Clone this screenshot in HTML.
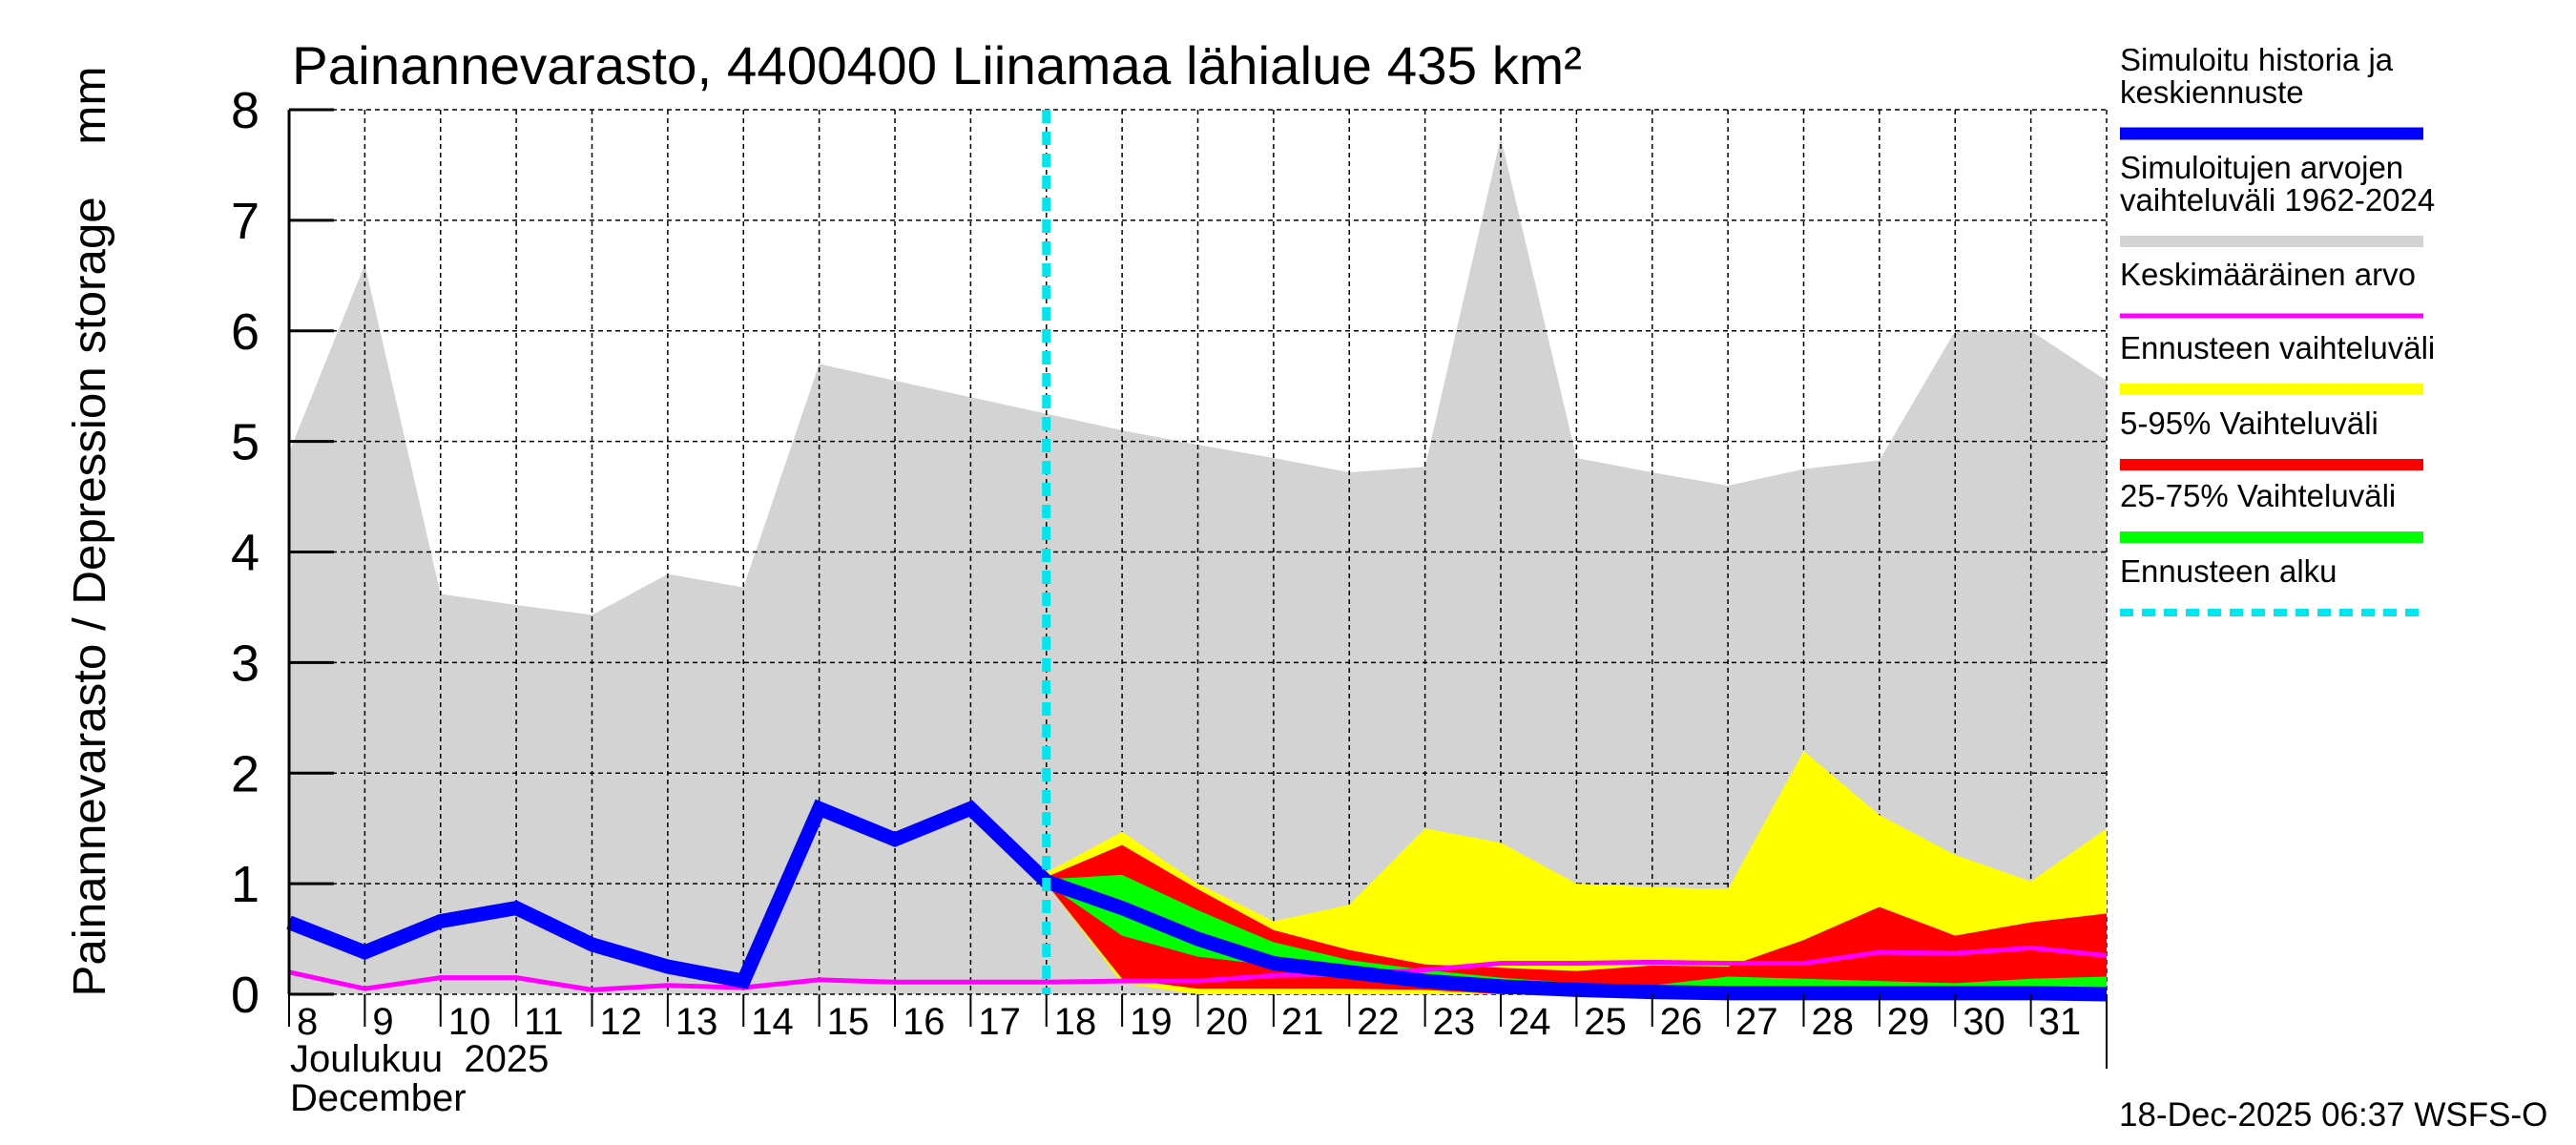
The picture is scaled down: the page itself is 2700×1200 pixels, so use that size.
<!DOCTYPE html>
<html><head><meta charset="utf-8"><style>
html,body{margin:0;padding:0;background:#fff}
svg{display:block;font-family:"Liberation Sans",sans-serif}
</style></head><body>
<svg id="chart" width="2700" height="1200" viewBox="0 0 2700 1200" xmlns="http://www.w3.org/2000/svg">
<g id="plot"></g>
<text x="306" y="88" font-size="56" textLength="1352" lengthAdjust="spacingAndGlyphs">Painannevarasto, 4400400 Liinamaa lähialue 435 km²</text>
<text transform="translate(110,557) rotate(-90)" text-anchor="middle" font-size="48" textLength="975" lengthAdjust="spacingAndGlyphs" xml:space="preserve">Painannevarasto / Depression storage    mm</text>
<text x="304" y="1123" font-size="40" xml:space="preserve">Joulukuu  2025</text>
<text x="304" y="1164" font-size="40">December</text>
<text x="2221" y="1180" font-size="35">18-Dec-2025 06:37 WSFS-O</text>
<g id="legend"></g>
</svg>
<script>
const days=[8,9,10,11,12,13,14,15,16,17,18,19,20,21,22,23,24,25,26,27,28,29,30,31,32];
const histMax=[4.9,6.6,3.62,3.52,3.43,3.8,3.68,5.7,5.55,5.4,5.25,5.1,4.97,4.85,4.72,4.77,7.75,4.85,4.72,4.6,4.75,4.83,6.0,6.0,5.55];
const blueVals=[0.65,0.38,0.66,0.78,0.45,0.25,0.12,1.68,1.4,1.68,1.02,0.78,0.5,0.28,0.2,0.12,0.07,0.04,0.02,0.01,0.01,0.01,0.01,0.01,0.0];
const meanVals=[0.2,0.05,0.15,0.15,0.04,0.08,0.06,0.13,0.11,0.11,0.11,0.12,0.12,0.17,0.18,0.22,0.28,0.28,0.29,0.28,0.28,0.38,0.37,0.42,0.35];
const fcDays=[18,19,20,21,22,23,24,25,26,27,28,29,30,31,32];
const yelHi=[1.1,1.47,1.0,0.66,0.81,1.5,1.37,1.0,0.97,0.95,2.2,1.62,1.26,1.02,1.5];
const yelLo=[1.0,0.1,0.0,0,0,0,0,0,0,0,0,0,0,0,0];
const redHi=[1.06,1.35,0.95,0.58,0.4,0.27,0.24,0.21,0.26,0.25,0.49,0.79,0.53,0.65,0.73];
const redLo=[1.0,0.14,0.05,0.05,0.05,0.04,0.0,0,0,0,0,0,0,0,0];
const grnHi=[1.04,1.08,0.76,0.47,0.31,0.22,0.15,0.1,0.08,0.16,0.14,0.12,0.1,0.14,0.16];
const grnLo=[1.0,0.53,0.34,0.26,0.2,0.14,0.08,0.05,0.03,0.03,0.03,0.03,0.03,0.03,0.03];
const yTicks=[0,1,2,3,4,5,6,7,8];
const xTickLabels=["8","9","10","11","12","13","14","15","16","17","18","19","20","21","22","23","24","25","26","27","28","29","30","31"];
const forecastStart=18;

const L=303,R=2208,T=115,B=1042;
const xs=d=>L+(d-8)*(R-L)/24;
const ys=v=>B-v*(B-T)/8;
const NS="http://www.w3.org/2000/svg";
const plot=document.getElementById('plot');
function mk(tag,attrs,parent){const e=document.createElementNS(NS,tag);for(const k in attrs)e.setAttribute(k,attrs[k]);(parent||plot).appendChild(e);return e;}
function band(xd,hi,lo,fill,name){
  let p=xd.map((d,i)=>xs(d)+','+ys(hi[i]));
  for(let i=xd.length-1;i>=0;i--)p.push(xs(xd[i])+','+ys(lo[i]));
  const e=mk('polygon',{points:p.join(' '),fill:fill});
  
  
}
band(days,histMax,days.map(()=>0),'#d3d3d3','historical-range-band');
for(const v of yTicks){const g=mk('line',{x1:L,x2:R,y1:ys(v),y2:ys(v),stroke:'#000','stroke-width':1.5,'stroke-dasharray':'5,4'});

}
for(const d of days){const g=mk('line',{x1:xs(d),x2:xs(d),y1:T,y2:B,stroke:'#000','stroke-width':1.5,'stroke-dasharray':'5,4'});

}
band(fcDays,yelHi,yelLo,'#ffff00','forecast-range-band');
band(fcDays,redHi,redLo,'#ff0000','band-5-95');
band(fcDays,grnHi,grnLo,'#00ff00','band-25-75');
function line(xd,vals,color,w,name){
  const e=mk('polyline',{points:xd.map((d,i)=>xs(d)+','+ys(vals[i])).join(' '),fill:'none',stroke:color,'stroke-width':w,'stroke-linejoin':'miter'});
  
  
}
line(days,meanVals,'#ff00ff',5,'mean-line');
line(days,blueVals,'#0000ff',15,'simulated-line');
const fc=mk('line',{x1:xs(forecastStart),x2:xs(forecastStart),y1:T,y2:B,stroke:'#00e5ee','stroke-width':9,'stroke-dasharray':'14,9'});


const ax=mk('line',{x1:L,x2:L,y1:T,y2:B,stroke:'#000','stroke-width':3});


const rx=mk('line',{x1:R,x2:R,y1:B,y2:1120,stroke:'#000','stroke-width':2});


for(const v of yTicks){
  const t=mk('line',{x1:L,x2:L+47,y1:ys(v),y2:ys(v),stroke:'#000','stroke-width':3});
  
  
  const tx=mk('text',{x:272,y:ys(v)+19,'font-size':54,'text-anchor':'end'});
  tx.textContent=v;
  
  
}
xTickLabels.forEach((lab,i)=>{
  const d=days[i];
  const t=mk('line',{x1:xs(d),x2:xs(d),y1:B,y2:B+34,stroke:'#000','stroke-width':2});
  
  
  const tx=mk('text',{x:xs(d)+8,y:1084,'font-size':40});
  tx.textContent=lab;
  
  
});
const lg=document.getElementById('legend');
const entries=[
 {t:["Simuloitu historia ja","keskiennuste"],c:'#0000ff',w:13,y:140,n:'legend-simulated'},
 {t:["Simuloitujen arvojen","vaihteluväli 1962-2024"],c:'#d3d3d3',w:12,y:253,n:'legend-historical-range'},
 {t:["Keskimääräinen arvo"],c:'#ff00ff',w:5,y:331,n:'legend-mean'},
 {t:["Ennusteen vaihteluväli"],c:'#ffff00',w:12,y:408,n:'legend-forecast-range'},
 {t:["5-95% Vaihteluväli"],c:'#ff0000',w:12,y:487,n:'legend-5-95'},
 {t:["25-75% Vaihteluväli"],c:'#00ff00',w:12,y:563,n:'legend-25-75'},
 {t:["Ennusteen alku"],c:'#00e5ee',w:8,y:642,n:'legend-forecast-start',dash:'14,9'}
];
entries.forEach(en=>{
  const g=mk('g',{},lg);
  
  
  const n=en.t.length;
  en.t.forEach((s,i)=>{const tx=mk('text',{x:2222,y:en.y-32-(n-1-i)*34,'font-size':33},g);tx.textContent=s;});
  const a={x1:2222,x2:2540,y1:en.y,y2:en.y,stroke:en.c,'stroke-width':en.w};
  if(en.dash)a['stroke-dasharray']=en.dash;
  mk('line',a,g);
});
</script>
</body></html>
